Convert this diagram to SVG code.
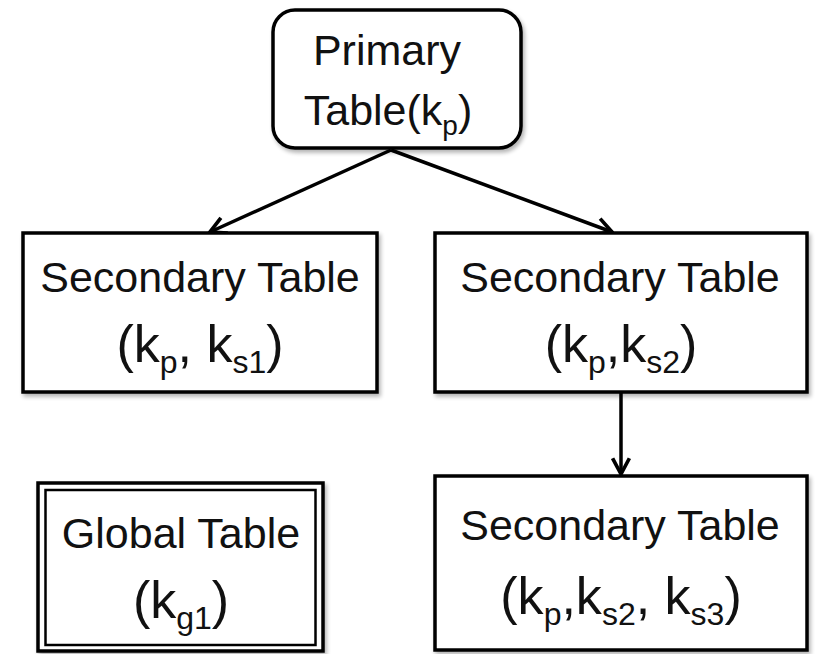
<svg xmlns="http://www.w3.org/2000/svg" width="815" height="654" viewBox="0 0 815 654">
<style>
.box{fill:#fff;stroke:#000;stroke-width:3.5}
.t1{font-family:"Liberation Sans",Arial,sans-serif;font-size:43px;fill:#111;text-anchor:middle}
.t2{font-family:"Liberation Sans",Arial,sans-serif;font-size:52px;fill:#111;text-anchor:middle}
.sub{font-size:32px}
.sub2{font-size:28px}
.conn{stroke:#000;stroke-width:3.5;fill:none}
</style>
<defs>
<filter id="sh" x="-10%" y="-10%" width="130%" height="130%">
<feGaussianBlur in="SourceAlpha" stdDeviation="2"/>
<feOffset dx="2" dy="3" result="b"/>
<feComponentTransfer><feFuncA type="linear" slope="0.3"/></feComponentTransfer>
<feMerge><feMergeNode/><feMergeNode in="SourceGraphic"/></feMerge>
</filter>
<marker id="arr" viewBox="0 0 20 20" refX="18" refY="10" markerWidth="6" markerHeight="6" markerUnits="strokeWidth" orient="auto">
<path d="M3,2 L18,10 L3,18" fill="none" stroke="#000" stroke-width="3.5" stroke-linejoin="miter"/>
</marker>
</defs>
<rect width="815" height="654" fill="#fff"/>
<g id="connectors">
<line class="conn" x1="391" y1="150" x2="210" y2="232" marker-end="url(#arr)"/>
<line class="conn" x1="391" y1="150" x2="612" y2="232" marker-end="url(#arr)"/>
<line class="conn" x1="621" y1="392" x2="621" y2="474" marker-end="url(#arr)"/>
</g>
<g id="primary">
<rect class="box" x="273" y="10" width="248" height="138" rx="22" filter="url(#sh)"/>
<text class="t1" x="387" y="65">Primary</text>
<text class="t1" x="388" y="125">Table(k<tspan class="sub2" dy="10">p</tspan><tspan dy="-10">)</tspan></text>
</g>
<g id="secondary1">
<rect class="box" x="23" y="233" width="354" height="159" filter="url(#sh)"/>
<text class="t1" x="200" y="292">Secondary Table</text>
<text class="t2" x="200" y="362">(k<tspan class="sub" dy="11">p</tspan><tspan dy="-11">, k</tspan><tspan class="sub" dy="11">s1</tspan><tspan dy="-11">)</tspan></text>
</g>
<g id="secondary2">
<rect class="box" x="435" y="233" width="372" height="159" filter="url(#sh)"/>
<text class="t1" x="620" y="292">Secondary Table</text>
<text class="t2" x="621" y="362">(k<tspan class="sub" dy="11">p</tspan><tspan dy="-11">,k</tspan><tspan class="sub" dy="11">s2</tspan><tspan dy="-11">)</tspan></text>
</g>
<g id="secondary3">
<rect class="box" x="435" y="476" width="372" height="174" filter="url(#sh)"/>
<text class="t1" x="620" y="540">Secondary Table</text>
<text class="t2" x="621" y="614">(k<tspan class="sub" dy="11">p</tspan><tspan dy="-11">,k</tspan><tspan class="sub" dy="11">s2</tspan><tspan dy="-11">, k</tspan><tspan class="sub" dy="11">s3</tspan><tspan dy="-11">)</tspan></text>
</g>
<g id="global">
<rect x="38" y="483" width="285" height="168" fill="#fff" stroke="#000" stroke-width="3.5" filter="url(#sh)"/>
<rect x="45.5" y="490" width="270" height="155" fill="none" stroke="#000" stroke-width="2.5"/>
<text class="t1" x="181" y="548">Global Table</text>
<text class="t2" x="181" y="618">(k<tspan class="sub" dy="11">g1</tspan><tspan dy="-11">)</tspan></text>
</g>
</svg>
